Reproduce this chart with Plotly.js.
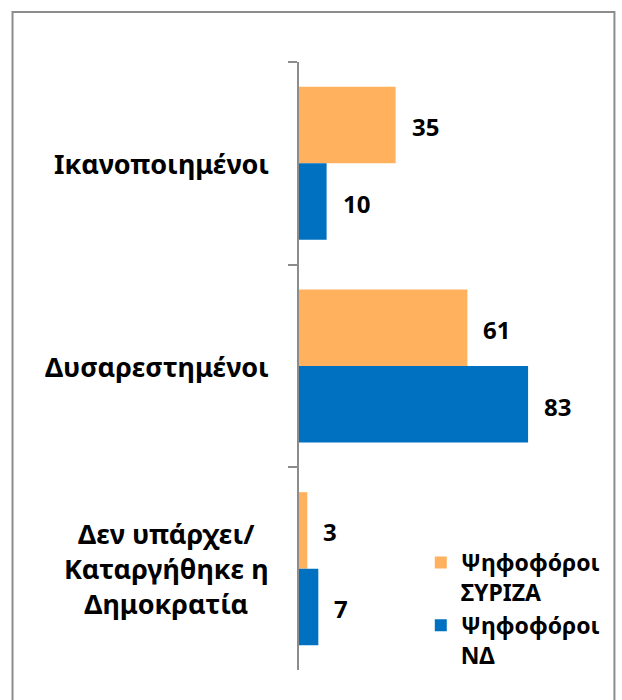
<!DOCTYPE html>
<html>
<head>
<meta charset="utf-8">
<script src="https://cdn.plot.ly/plotly-3.0.1.min.js"></script>
<style>html,body{margin:0;padding:0;background:#fff;}</style>
</head>
<body>
<div id="chart" style="width:622px;height:700px;"></div>
<script>
const categories = ["Ικανοποιημένοι", "Δυσαρεστημένοι", "Δεν υπάρχει/<br>Καταργήθηκε η<br>Δημοκρατία"];
const seriesNames = ["Ψηφοφόροι<br>ΣΥΡΙΖΑ", "Ψηφοφόροι<br>ΝΔ"];
const syrizaValues = [35, 61, 3];
const ndValues = [10, 83, 7];

const FONT = "Noto Sans, Open Sans, DejaVu Sans, sans-serif";
const W = 622, H = 700;
const plotL = 299, plotR = 575.5, plotT = 62, plotB = 670;
const px2x = p => (p - plotL) / (plotR - plotL);
const px2y = p => (plotB - p) / (plotB - plotT);

const traces = [
  {type: "bar", orientation: "h", name: seriesNames[0], y: categories, x: syrizaValues,
   marker: {color: "#FFB15E"}, hoverinfo: "x"},
  {type: "bar", orientation: "h", name: seriesNames[1], y: categories, x: ndValues,
   marker: {color: "#0070C0"}, hoverinfo: "x"}
];

const annotations = [];
categories.forEach((c, i) => {
  annotations.push({xref: "paper", yref: "y", x: px2x(271), y: c, xanchor: "right", yanchor: "middle",
    text: "<b>" + c + "</b>", showarrow: false, align: "center", font: {family: FONT, size: 27, color: "#000"}});
  annotations.push({xref: "x", yref: "y", x: syrizaValues[i], y: c, xanchor: "left", yanchor: "middle",
    xshift: 14, yshift: 37, text: "<b>" + syrizaValues[i] + "</b>", showarrow: false,
    font: {family: FONT, size: 24, color: "#000"}});
  annotations.push({xref: "x", yref: "y", x: ndValues[i], y: c, xanchor: "left", yanchor: "middle",
    xshift: 14, yshift: -40, text: "<b>" + ndValues[i] + "</b>", showarrow: false,
    font: {family: FONT, size: 24, color: "#000"}});
});

const layout = {
  width: W, height: H,
  margin: {l: plotL, r: W - plotR, t: plotT, b: H - plotB, pad: 0},
  paper_bgcolor: "#fff", plot_bgcolor: "#fff",
  barmode: "group", bargap: 0.245, bargroupgap: 0,
  showlegend: true,
  legend: {x: px2x(421), y: px2y(541), xanchor: "left", yanchor: "top", valign: "top",
    font: {family: FONT, size: 23, color: "#000", weight: "bold"}, bgcolor: "rgba(0,0,0,0)",
    tracegroupgap: 0, itemclick: false},
  xaxis: {range: [0, 100], showgrid: false, zeroline: false, showline: false, showticklabels: false, ticks: ""},
  yaxis: {type: "category", autorange: "reversed", showgrid: false, zeroline: false,
    showline: true, linecolor: "#8C8C8C", linewidth: 2,
    ticks: "outside", tickson: "boundaries", ticklen: 9, tickwidth: 2, tickcolor: "#8C8C8C",
    showticklabels: false},
  shapes: [{type: "rect", xref: "paper", yref: "paper", x0: px2x(12), x1: px2x(615), y0: px2y(12), y1: px2y(720),
    line: {color: "#8C8C8C", width: 2}, fillcolor: "rgba(0,0,0,0)", layer: "below"}],
  annotations: annotations
};

Plotly.newPlot("chart", traces, layout, {displayModeBar: false, staticPlot: true});
</script>
</body>
</html>
